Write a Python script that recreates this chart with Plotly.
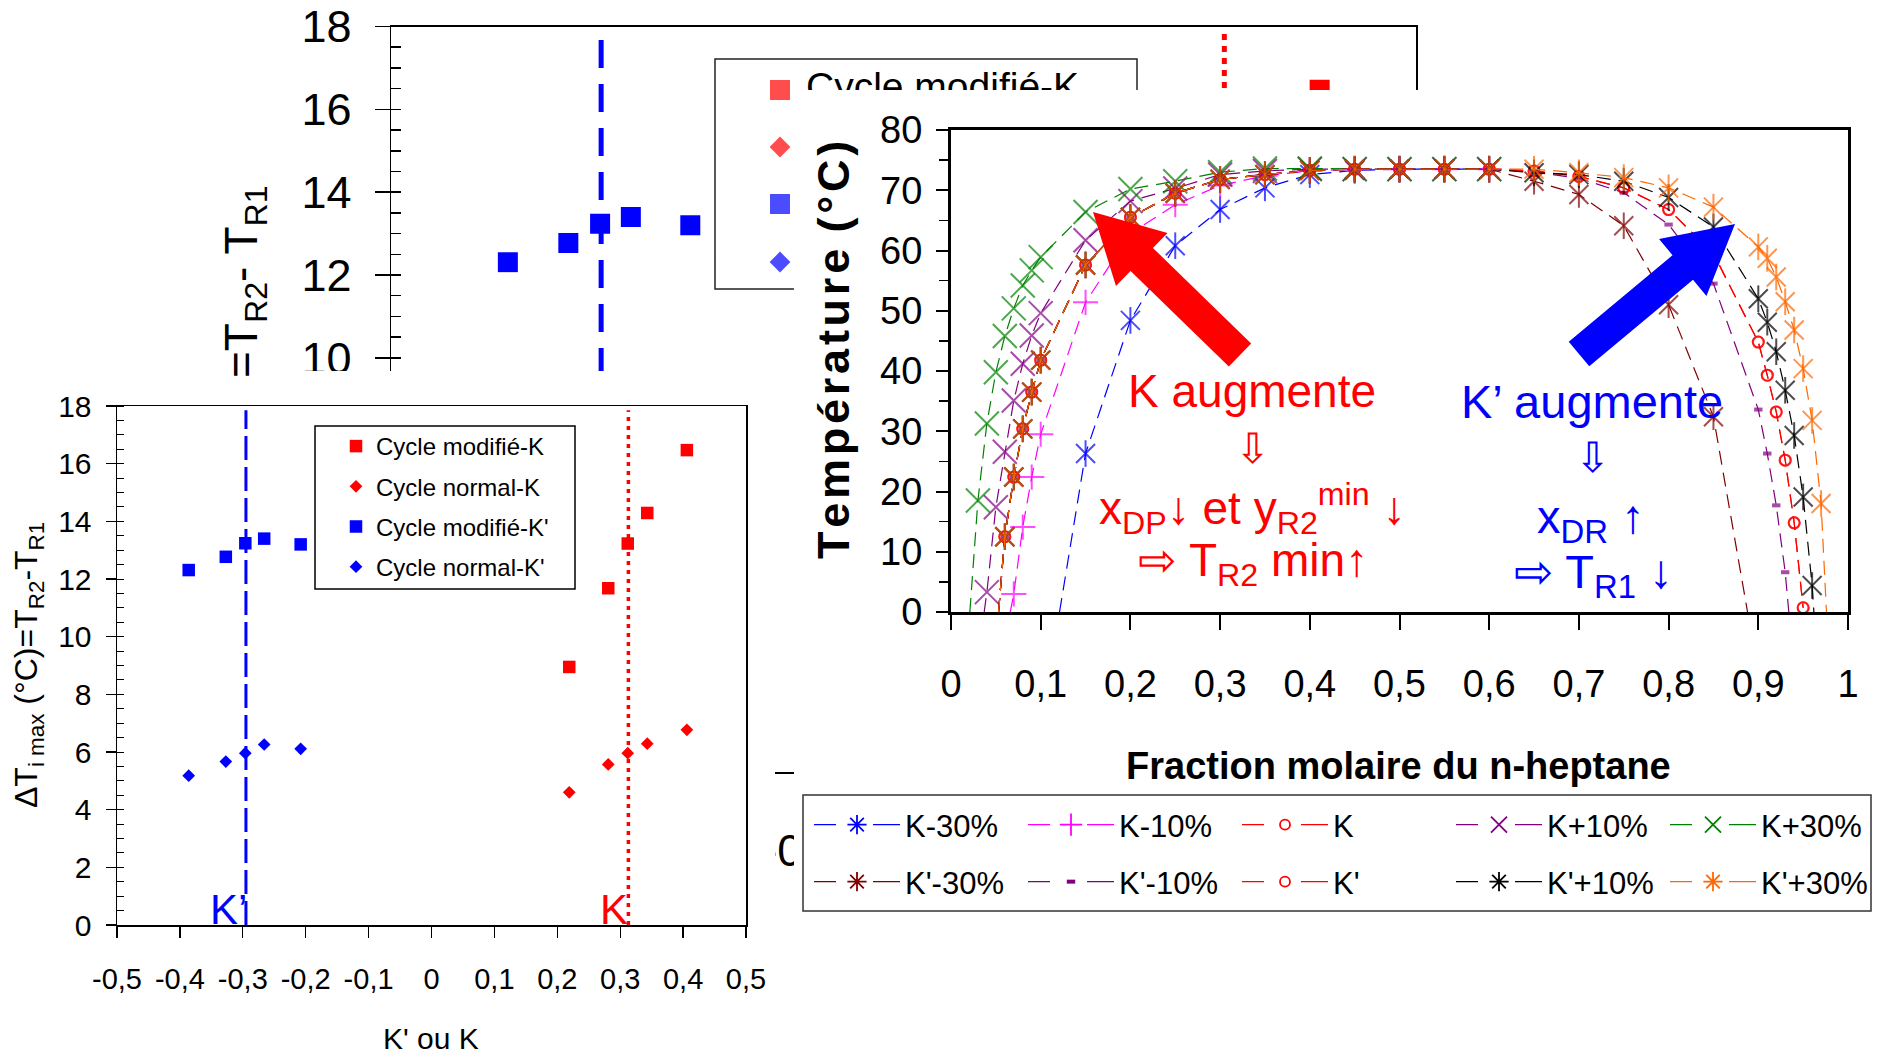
import math
import plotly.graph_objects as go

W, H = 1888, 1059


def fx(px):
    return px / W


def fy(py):
    return 1 - py / H


REG = "Liberation Sans, Arial, sans-serif"
RED, BLUE = "#FF0000", "#0000FF"

# ---------------- Delta T_i max versus K' / K ----------------
K_values = [0.219, 0.281, 0.312, 0.343, 0.406]
dT_modifie_K = [8.95, 11.68, 13.23, 14.29, 16.47]
dT_normal_K = [4.60, 5.57, 5.96, 6.29, 6.77]
Kp_values = [-0.386, -0.327, -0.296, -0.266, -0.208]
dT_modifie_Kp = [12.31, 12.77, 13.24, 13.40, 13.20]
dT_normal_Kp = [5.18, 5.67, 5.96, 6.26, 6.11]
K_ref = 0.313
Kp_ref = -0.295
ref_line_span = [0, 17.85]
K_ticks = [-0.5, -0.4, -0.3, -0.2, -0.1, 0, 0.1, 0.2, 0.3, 0.4, 0.5]
K_ticklabels = ["-0,5", "-0,4", "-0,3", "-0,2", "-0,1", "0", "0,1", "0,2", "0,3", "0,4", "0,5"]
dT_ticks = [0, 2, 4, 6, 8, 10, 12, 14, 16, 18]
legend_dT_names = ["Cycle modifié-K", "Cycle normal-K", "Cycle modifié-K'", "Cycle normal-K'"]

# ---------------- phase envelope (Température vs fraction molaire) ----------------
x_ticks = [0, 0.1, 0.2, 0.3, 0.4, 0.5, 0.6, 0.7, 0.8, 0.9, 1.0]
x_ticklabels = ["0", "0,1", "0,2", "0,3", "0,4", "0,5", "0,6", "0,7", "0,8", "0,9", "1"]

# common left (dew) branch for K and all K' cases
x_left = [0.06, 0.07, 0.08, 0.09, 0.10, 0.15, 0.20, 0.25, 0.30, 0.35, 0.40, 0.45, 0.50, 0.55, 0.60]
T_left_base = [12.5, 22.4, 30.4, 36.5, 41.8, 57.6, 65.5, 69.5, 71.8, 72.6, 73.3, 73.5, 73.5, 73.5, 73.5]
# right (bubble) branch abscissas
x_right = [0.65, 0.70, 0.75, 0.80, 0.85, 0.90, 0.91, 0.92, 0.93, 0.94, 0.95, 0.96, 0.97]
T_right_base = [73.2, 72.3, 70.4, 66.8, 59.5, 44.8, 39.3, 33.2, 25.2, 14.8, 0.7]
T_right_Kq_m30 = [71.5, 69.3, 64.1, 51.0, 32.4]
T_right_Kq_m10 = [73.0, 72.0, 69.6, 64.3, 54.5, 33.6, 26.3, 17.7, 6.6]
T_right_Kq_p10 = [72.9, 72.6, 71.5, 68.8, 63.9, 52.0, 48.1, 43.2, 36.8, 29.3, 19.1, 4.4]
T_right_Kq_p30 = [73.5, 72.9, 72.1, 70.4, 67.2, 60.6, 58.7, 55.6, 51.5, 46.8, 40.4, 31.8, 18.0]

# K variations (left branch)
x_K_m30 = [0.15, 0.20, 0.25, 0.30, 0.35, 0.40, 0.45, 0.50, 0.55, 0.60]
T_K_m30 = [26.3, 48.4, 60.8, 66.8, 70.4, 72.6, 73.3, 73.5, 73.5, 73.5]
x_K_m10 = [0.07, 0.08, 0.09, 0.10, 0.15, 0.20, 0.25, 0.30, 0.35, 0.40, 0.45, 0.50, 0.55, 0.60]
T_K_m10 = [3.0, 14.1, 22.4, 29.5, 51.4, 62.8, 67.6, 70.8, 72.4, 73.2, 73.5, 73.5, 73.5, 73.5]
x_K_p10 = [0.04, 0.05, 0.06, 0.07, 0.08, 0.09, 0.10, 0.15, 0.20, 0.25, 0.30, 0.35, 0.40, 0.45, 0.50, 0.55, 0.60]
T_K_p10 = [3.3, 17.4, 26.6, 35.1, 41.2, 45.9, 49.6, 61.7, 68.2, 70.3, 72.6, 73.2, 73.5, 73.5, 73.5, 73.5, 73.5]
x_K_p30 = [0.03, 0.04, 0.05, 0.06, 0.07, 0.08, 0.09, 0.10, 0.15, 0.20, 0.25, 0.30, 0.35, 0.40, 0.45, 0.50, 0.55, 0.60]
T_K_p30 = [18.5, 31.3, 39.8, 45.8, 50.4, 54.2, 56.7, 58.9, 66.4, 70.2, 71.5, 73.0, 73.6, 73.6, 73.5, 73.5, 73.5, 73.5]

# where the fitted curves meet T = 0 (line only, no marker)
end_base_lo = (0.053, 0.0)
end_K_m30_lo = (0.121, 0.0)
end_K_m10_lo = (0.066, 0.0)
end_K_p10_lo = (0.037, 0.0)
end_K_p30_lo = (0.021, 0.0)
end_Kq_m30_hi = (0.888, 0.0)
end_Kq_m10_hi = (0.934, 0.0)
end_Kq_p10_hi = (0.962, 0.0)
end_Kq_p30_hi = (0.976, 0.0)

series = [
    dict(name="K-30%", x=x_K_m30, T=T_K_m30, lo=end_K_m30_lo, hi=None, color="#0000FF", kind="asterisk", lg="legend"),
    dict(name="K-10%", x=x_K_m10, T=T_K_m10, lo=end_K_m10_lo, hi=None, color="#FF00FF", kind="cross", lg="legend"),
    dict(name="K", x=x_left + x_right[:len(T_right_base)], T=T_left_base + T_right_base, lo=end_base_lo, hi=None,
         color="#FF0000", kind="circle", lg="legend"),
    dict(name="K+10%", x=x_K_p10, T=T_K_p10, lo=end_K_p10_lo, hi=None, color="#800080", kind="x", lg="legend"),
    dict(name="K+30%", x=x_K_p30, T=T_K_p30, lo=end_K_p30_lo, hi=None, color="#008000", kind="x", lg="legend"),
    dict(name="K'-30%", x=x_left + x_right[:len(T_right_Kq_m30)], T=T_left_base + T_right_Kq_m30, lo=end_base_lo,
         hi=end_Kq_m30_hi, color="#800000", kind="asterisk", lg="legend3"),
    dict(name="K'-10%", x=x_left + x_right[:len(T_right_Kq_m10)], T=T_left_base + T_right_Kq_m10, lo=end_base_lo,
         hi=end_Kq_m10_hi, color="#800080", kind="dash", lg="legend3"),
    dict(name="K'", x=x_left + x_right[:len(T_right_base)], T=T_left_base + T_right_base, lo=end_base_lo, hi=None,
         color="#FF0000", kind="circle", lg="legend3"),
    dict(name="K'+10%", x=x_left + x_right[:len(T_right_Kq_p10)], T=T_left_base + T_right_Kq_p10, lo=end_base_lo,
         hi=end_Kq_p10_hi, color="#000000", kind="asterisk", lg="legend3"),
    dict(name="K'+30%", x=x_left + x_right[:len(T_right_Kq_p30)], T=T_left_base + T_right_Kq_p30, lo=end_base_lo,
         hi=end_Kq_p30_hi, color="#FF6600", kind="asterisk", lg="legend3"),
]

fig = go.Figure()

# =============== subplot 1 : enlarged copy, mostly covered by the two cards ===============
BG_X0, BG_X1, BG_Y0, BG_Y18 = 391, 1416, 772, 26.5


def bgx(px):
    return -0.5 + (px - BG_X0) / (BG_X1 - BG_X0)


def bgy(py):
    return (BG_Y0 - py) / ((BG_Y0 - BG_Y18) / 18)


for xs, ys, sym, col, size in [
    (K_values, dT_modifie_K, "square", RED, 20),
    (K_values, dT_normal_K, "diamond", RED, 16),
    (Kp_values, dT_modifie_Kp, "square", BLUE, 20),
    (Kp_values, dT_normal_Kp, "diamond", BLUE, 16),
]:
    fig.add_trace(go.Scatter(x=xs, y=ys, mode="markers", xaxis="x", yaxis="y", showlegend=False, hoverinfo="skip",
                             marker=dict(symbol=sym, color=col, size=size, line=dict(width=0))))
fig.add_trace(go.Scatter(x=[Kp_ref, Kp_ref], y=ref_line_span, mode="lines", xaxis="x", yaxis="y", showlegend=False,
                         hoverinfo="skip", line=dict(color=BLUE, width=5, dash="28px,16px")))
fig.add_trace(go.Scatter(x=[K_ref, K_ref], y=ref_line_span, mode="lines", xaxis="x", yaxis="y", showlegend=False,
                         hoverinfo="skip", line=dict(color=RED, width=5, dash="6px,6px")))
bg_leg_rows = [90, 147, 204, 262]
fig.add_trace(go.Scatter(x=[bgx(780)] * 4, y=[bgy(r) for r in bg_leg_rows], mode="markers", xaxis="x", yaxis="y",
                         showlegend=False, hoverinfo="skip",
                         marker=dict(symbol=["square", "diamond", "square", "diamond"], color=[RED, RED, BLUE, BLUE],
                                     size=[20, 16, 20, 16], line=dict(width=0))))
# only the first legend label of the enlarged copy peeks out above the envelope card
fig.add_trace(go.Scatter(x=[bgx(806)], y=[bgy(bg_leg_rows[0])], mode="text", text=legend_dT_names[:1],
                         textposition="middle right", xaxis="x", yaxis="y", showlegend=False, hoverinfo="skip",
                         cliponaxis=False, textfont=dict(family=REG, size=39, color="black")))
fig.add_trace(go.Scatter(x=[0], y=[bgy(939)], mode="text", text=["K' ou K"], textposition="middle center",
                         xaxis="x", yaxis="y", showlegend=False, hoverinfo="skip", cliponaxis=False,
                         textfont=dict(family=REG, size=50, color="black")))

# =============== subplot 2 : white card of the small chart ===============
card = dict(x=[0, 1, 1, 0, 0], y=[0, 0, 1, 1, 0], mode="lines", fill="toself", fillcolor="white",
            line=dict(width=0, color="white"), showlegend=False, hoverinfo="skip")
fig.add_trace(go.Scatter(xaxis="x2", yaxis="y2", **card))

# =============== subplot 3 : Delta T chart ===============
for i, (xs, ys, sym, col, size, nm) in enumerate([
    (K_values, dT_modifie_K, "square", RED, 12.5, legend_dT_names[0]),
    (K_values, dT_normal_K, "diamond", RED, 9.8, legend_dT_names[1]),
    (Kp_values, dT_modifie_Kp, "square", BLUE, 12.5, legend_dT_names[2]),
    (Kp_values, dT_normal_Kp, "diamond", BLUE, 9.8, legend_dT_names[3]),
]):
    fig.add_trace(go.Scatter(x=xs, y=ys, mode="markers", name=nm, xaxis="x3", yaxis="y3", legend="legend2",
                             legendgroup=f"g{i}", hoverinfo="skip",
                             marker=dict(symbol=sym, color=col, size=size, line=dict(width=0))))
fig.add_trace(go.Scatter(x=[Kp_ref, Kp_ref], y=ref_line_span, mode="lines", xaxis="x3", yaxis="y3", showlegend=False,
                         hoverinfo="skip", line=dict(color=BLUE, width=3, dash="24px,7px")))
fig.add_trace(go.Scatter(x=[K_ref, K_ref], y=ref_line_span, mode="lines", xaxis="x3", yaxis="y3", showlegend=False,
                         hoverinfo="skip", line=dict(color=RED, width=3.5, dash="4px,5px")))

# =============== subplot 4 : white card of the envelope chart ===============
fig.add_trace(go.Scatter(xaxis="x4", yaxis="y4", **card))

# =============== subplot 5 : phase envelope ===============
LINE_DASH = "14px,8px"
LEGEND_DASH = "22px,37px,40px,20px"
for s in series:
    lo, hi = s["lo"], s["hi"]
    lx = ([lo[0]] if lo else []) + list(s["x"]) + ([hi[0]] if hi else [])
    ly = ([lo[1]] if lo else []) + list(s["T"]) + ([hi[1]] if hi else [])
    n_lo, n_hi, n = (1 if lo else 0), (1 if hi else 0), len(s["x"])
    c = s["color"]
    kind = s["kind"]
    if kind == "asterisk":
        sym, sz, lw, lsym = "x-thin-open", 19, 2, "asterisk-open"
    elif kind == "cross":
        sym, sz, lw, lsym = "cross-thin-open", 18, 2, "cross-thin-open"
    elif kind == "circle":
        sym, sz, lw, lsym = "circle-open", 11, 2, "circle-open"
    elif kind == "x":
        sym, sz, lw, lsym = "x-thin-open", 24, 2, "x-thin-open"
    else:
        sym, sz, lw, lsym = "line-ew-open", 6, 4, "line-ew-open"
    sizes = [0] * n_lo + [sz] * n + [0] * n_hi
    fig.add_trace(go.Scatter(
        x=lx, y=ly, mode="lines+markers", name=s["name"], xaxis="x5", yaxis="y5", showlegend=False,
        hoverinfo="skip", line=dict(color=c, width=1.2, dash=LINE_DASH),
        marker=dict(symbol=sym, size=sizes, color=c, line=dict(color=c, width=lw))))
    if kind == "asterisk":
        fig.add_trace(go.Scatter(
            x=lx, y=ly, mode="markers", xaxis="x5", yaxis="y5", showlegend=False, hoverinfo="skip",
            marker=dict(symbol="line-ns-open", size=[0] * n_lo + [19] * n + [0] * n_hi, color=c,
                        line=dict(color=c, width=2))))
    # legend entry
    fig.add_trace(go.Scatter(
        x=[None], y=[None], mode="lines+markers", name=s["name"], xaxis="x5", yaxis="y5", legend=s["lg"],
        hoverinfo="skip", line=dict(color=c, width=1.4, dash=LEGEND_DASH),
        marker=dict(symbol=lsym, size=min(sz, 16) if kind != "circle" else 10, color=c,
                    line=dict(color=c, width=lw if kind == "dash" else 1.8))))

# ---------------- axes ----------------
common = dict(showgrid=False, zeroline=False, showline=True, linecolor="black", tickcolor="black")
hidden = dict(visible=False, range=[0, 1], fixedrange=True, showgrid=False, zeroline=False)

# ticks of the enlarged copy that are not hidden by the cards
bg_x_visible = [v for v in K_ticks if -0.15 < v < -0.05]
bg_y_visible = [v for v in dT_ticks if v >= 10]

layout_axes = dict(
    xaxis=dict(domain=[fx(BG_X0), fx(BG_X1)], range=[-0.5, 0.5], anchor="y", tickmode="array",
               tickvals=bg_x_visible, ticktext=[K_ticklabels[K_ticks.index(v)] for v in bg_x_visible],
               ticks="outside", ticklen=16, tickwidth=1.5, linewidth=1.5, mirror=True,
               tickfont=dict(family=REG, size=45, color="black"), ticklabelstandoff=22, **common),
    yaxis=dict(domain=[fy(BG_Y0), fy(BG_Y18)], range=[0, 18], anchor="x", tickmode="array", tickvals=bg_y_visible,
               ticks="outside", ticklen=15, tickwidth=1.5, linewidth=1.5, mirror=True,
               minor=dict(ticks="inside", ticklen=10, tickmode="linear", tick0=0, dtick=0.5, tickcolor="black",
                          tickwidth=1.5),
               tickfont=dict(family=REG, size=45, color="black"), ticklabelstandoff=14, **common),
    xaxis2=dict(domain=[0, fx(775)], anchor="y2", **hidden),
    yaxis2=dict(domain=[0, fy(371)], anchor="x2", **hidden),
    xaxis3=dict(domain=[fx(117), fx(746)], range=[-0.5, 0.5], anchor="y3", tickmode="array", tickvals=K_ticks,
                ticktext=K_ticklabels, ticks="outside", ticklen=11, tickwidth=1.2, linewidth=1.5, mirror=True,
                tickfont=dict(family=REG, size=29, color="black"), ticklabelstandoff=17, **common),
    yaxis3=dict(domain=[fy(925), fy(406)], range=[0, 18], anchor="x3", tickmode="array", tickvals=dT_ticks,
                ticks="outside", ticklen=10,
                tickwidth=1.2, linewidth=1.5, mirror=True,
                minor=dict(ticks="inside", ticklen=7, tickmode="linear", tick0=0, dtick=0.5, tickcolor="black",
                           tickwidth=1),
                tickfont=dict(family=REG, size=30, color="black"), ticklabelstandoff=8, **common),
    xaxis4=dict(domain=[fx(794), 1], anchor="y4", **hidden),
    yaxis4=dict(domain=[fy(928), fy(90)], anchor="x4", **hidden),
    xaxis5=dict(domain=[fx(951), fx(1848)], range=[0, 1], anchor="y5", tickmode="array", tickvals=x_ticks,
                ticktext=x_ticklabels, ticks="outside", ticklen=15, tickwidth=2, linewidth=3, mirror=True,
                tickfont=dict(family=REG, size=38, color="black"), ticklabelstandoff=21, **common),
    yaxis5=dict(domain=[fy(612), fy(130)], range=[0, 80], anchor="x5", dtick=10, ticks="outside", ticklen=12,
                tickwidth=2, linewidth=3, mirror=True,
                minor=dict(ticks="outside", ticklen=9, tickmode="linear", tick0=0, dtick=5, tickcolor="black",
                           tickwidth=1.5),
                tickfont=dict(family=REG, size=38, color="black"), ticklabelstandoff=6, **common),
)


# ---------------- shapes ----------------
def arrow_path(tail, tip, shaft_hw, head_hw, head_len):
    dx, dy = tip[0] - tail[0], tip[1] - tail[1]
    L = math.hypot(dx, dy)
    ux, uy = dx / L, dy / L
    nx, ny = -uy, ux
    neck = (tip[0] - ux * head_len, tip[1] - uy * head_len)
    pts = [
        (tail[0] + nx * shaft_hw, tail[1] + ny * shaft_hw),
        (neck[0] + nx * shaft_hw, neck[1] + ny * shaft_hw),
        (neck[0] + nx * head_hw, neck[1] + ny * head_hw),
        tip,
        (neck[0] - nx * head_hw, neck[1] - ny * head_hw),
        (neck[0] - nx * shaft_hw, neck[1] - ny * shaft_hw),
        (tail[0] - nx * shaft_hw, tail[1] - ny * shaft_hw),
    ]
    return "M " + " L ".join(f"{fx(px):.5f},{fy(py):.5f}" for px, py in pts) + " Z"


shapes = [
    # legend frame of the enlarged background chart (inside subplot 1)
    dict(type="rect", xref="x", yref="y", x0=bgx(715), x1=bgx(1137), y0=bgy(289), y1=bgy(59),
         line=dict(color="#222", width=1.5), fillcolor="rgba(0,0,0,0)", layer="below"),
    # legend frame of the Delta T chart
    dict(type="rect", xref="paper", yref="paper", x0=fx(315), x1=fx(575), y0=fy(589), y1=fy(426),
         line=dict(color="black", width=1.5), fillcolor="white", layer="above"),
    # legend frame of the envelope chart
    dict(type="rect", xref="paper", yref="paper", x0=fx(803), x1=fx(1871), y0=fy(911), y1=fy(795),
         line=dict(color="#333", width=1.5), fillcolor="white", layer="above"),
    # big arrows
    dict(type="path", xref="paper", yref="paper", path=arrow_path((1240, 355), (1093, 212), 16, 37, 68),
         fillcolor=RED, line=dict(width=0), layer="above"),
    dict(type="path", xref="paper", yref="paper", path=arrow_path((1579, 354), (1735, 224), 16, 37, 68),
         fillcolor=BLUE, line=dict(width=0), layer="above"),
]


# ---------------- annotations ----------------
def txt(text, px, py, size, color="black", angle=0):
    return dict(text=text, x=fx(px), y=fy(py), xref="paper", yref="paper", showarrow=False, xanchor="center",
                yanchor="middle", textangle=angle, font=dict(family=REG, size=size, color=color))


HS = "\u200a"
temp_title = HS.join("Température") + HS + " " + HS.join("(°C)")

annotations = [
    # enlarged background chart: visible end of its y title
    txt("=T<sub>R2</sub>- T<sub>R1</sub>", 244, 281, 46, angle=-90),
    # Delta T chart titles
    txt("ΔT<sub>i max</sub> (°C)=T<sub>R2</sub>-T<sub>R1</sub>", 28, 665, 32, angle=-90),
    txt("K' ou K", 431, 1038, 30),
    dict(text="K’", x=-0.322, y=0.55, xref="x3", yref="y3", showarrow=False, xanchor="center", yanchor="middle",
         font=dict(family=REG, size=42, color=BLUE)),
    dict(text="K", x=0.29, y=0.55, xref="x3", yref="y3", showarrow=False, xanchor="center", yanchor="middle",
         font=dict(family=REG, size=42, color=RED)),
    # envelope chart titles
    txt("<b>" + temp_title + "</b>", 833, 350, 45, angle=-90),
    txt("<b>Fraction molaire du n-heptane</b>", 1398, 766, 38),
    # envelope chart comments
    txt("K augmente", 1252, 391, 46, RED),
    txt("⇩", 1252, 449, 42, RED),
    txt("x<sub>DP</sub>↓ et y<sub>R2</sub><sup>min</sup> ↓", 1252, 509, 46, RED),
    txt("⇨ T<sub>R2</sub> min↑", 1253, 563, 46, RED),
    txt("K’ augmente", 1592, 401, 47, BLUE),
    txt("⇩", 1592, 457, 42, BLUE),
    txt("x<sub>DR</sub> ↑", 1591, 520, 47, BLUE),
    txt("⇨ T<sub>R1</sub> ↓", 1593, 575, 47, BLUE),
]

legend_common = dict(orientation="h", xanchor="left", yanchor="middle", bgcolor="rgba(0,0,0,0)", borderwidth=0,
                     font=dict(family=REG, size=31, color="black"), itemwidth=86, entrywidth=113,
                     entrywidthmode="pixels", traceorder="normal", itemclick=False, itemdoubleclick=False)

fig.update_layout(
    template="none",
    width=W, height=H, autosize=False,
    margin=dict(l=0, r=0, t=0, b=0, pad=0),
    paper_bgcolor="white", plot_bgcolor="white",
    font=dict(family=REG, color="black"),
    hovermode=False,
    shapes=shapes,
    annotations=annotations,
    legend=dict(x=fx(809), y=fy(825), **legend_common),
    legend3=dict(x=fx(809), y=fy(882), **legend_common),
    legend2=dict(x=fx(336), y=fy(424), xanchor="left", yanchor="top", orientation="v", bgcolor="rgba(0,0,0,0)",
                 borderwidth=0, font=dict(family=REG, size=24, color="black"), itemwidth=30,
                 traceorder="grouped", tracegroupgap=6, itemclick=False, itemdoubleclick=False),
    **layout_axes,
)

fig.write_html("out.html", include_plotlyjs=True, full_html=True,
               config={"displayModeBar": False, "staticPlot": True},
               post_script="document.body.style.margin='0';document.body.style.overflow='hidden';")
